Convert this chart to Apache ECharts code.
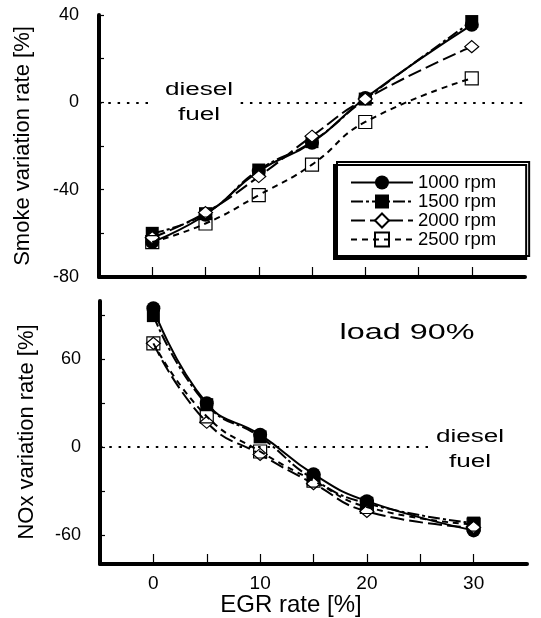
<!DOCTYPE html>
<html>
<head>
<meta charset="utf-8">
<script src="https://cdn.jsdelivr.net/npm/echarts@6/dist/echarts.min.js"></script>
<style>
html,body{margin:0;padding:0;background:#fff;}
#chart{width:541px;height:618px;}
</style>
</head>
<body>
<div id="chart"></div>
<script>
// ---- data ----
const egrRates = [0, 5, 10, 15, 20, 30];
const rpmNames = ['1000 rpm', '1500 rpm', '2000 rpm', '2500 rpm'];

const smoke1000 = [-64, -51.5, -31.5, -18.5, 2, 35.5];
const smoke1500 = [-60, -51, -31, -18, 1.5, 37];
const smoke2000 = [-62, -50.5, -34, -15.5, 1.5, 25.5];
const smoke2500 = [-64, -55.5, -42.5, -28.5, -9, 11];

const nox1000 = [95, 30, 8.5, -18.5, -37, -57];
const nox1500 = [90, 29, 7, -22, -38.5, -52];
const nox2000 = [71, 17, -5, -25, -44, -55];
const nox2500 = [71, 21, -3, -23, -41, -53];

const smokeLabelValues = [-80, -40, 0, 40];
const noxTickValues = [-60, -30, 0, 30, 60, 90];
const noxLabelValues = [-60, 0, 60];
const egrTickValues = [0, 5, 10, 15, 20, 25, 30];
const egrLabelValues = [0, 10, 20, 30];

// ---- chart ----
const FONT = '"Liberation Sans", Arial, Helvetica, sans-serif';
const chart = echarts.init(document.getElementById('chart'), null, {renderer: 'canvas'});

const styles = [
  {symbol: 'circle', size: 14, fill: '#000', dash: 'solid'},
  {symbol: 'rect', size: 13, fill: '#000', dash: [12, 3, 3, 3]},
  {symbol: 'diamond', size: [14, 12], fill: '#fff', dash: [14, 5]},
  {symbol: 'rect', size: 13, fill: 'rgba(255,255,255,0)', dash: [6, 5]}
];

function pairs(vals) { return egrRates.map((x, i) => [x, vals[i]]); }

function mkSeries(idx, gridIdx, vals, extra) {
  const s = styles[idx];
  const o = {
    name: rpmNames[idx],
    type: 'line',
    xAxisIndex: gridIdx,
    yAxisIndex: gridIdx,
    data: pairs(vals),
    smooth: 0.5,
    symbol: s.symbol,
    symbolSize: s.size,
    showSymbol: true,
    lineStyle: {color: '#000', width: 2, type: s.dash},
    itemStyle: {color: s.fill, borderColor: '#000', borderWidth: idx >= 2 ? 1.2 : 0},
    emphasis: {disabled: true},
    animation: false,
    z: 3 + idx
  };
  return Object.assign(o, extra || {});
}

const dotted = {color: '#000', width: 2, type: [2.5, 6.8]};

const option = {
  animation: false,
  backgroundColor: '#fff',
  grid: [
    {left: 99, top: 15, width: 426, height: 262},
    {left: 100, top: 301, width: 427, height: 263}
  ],
  xAxis: [
    {
      type: 'value', gridIndex: 0, min: -5, max: 35, interval: 5,
      axisLine: {onZero: false, lineStyle: {color: '#000', width: 4}},
      axisTick: {inside: true, length: 10, lineStyle: {color: '#000', width: 1.2}, customValues: egrTickValues},
      axisLabel: {show: false},
      splitLine: {show: false}
    },
    {
      type: 'value', gridIndex: 1, min: -5, max: 35, interval: 5,
      axisLine: {onZero: false, lineStyle: {color: '#000', width: 4}},
      axisTick: {inside: true, length: 10, lineStyle: {color: '#000', width: 1.2}, customValues: egrTickValues},
      axisLabel: {color: '#000', fontSize: 19, fontFamily: FONT, margin: 10, customValues: egrLabelValues},
      splitLine: {show: false}
    }
  ],
  yAxis: [
    {
      type: 'value', gridIndex: 0, min: -80, max: 40, interval: 20,
      axisLine: {show: true, onZero: false, lineStyle: {color: '#000', width: 4}},
      axisTick: {show: true, inside: true, length: 5, lineStyle: {color: '#000', width: 1.2}},
      axisLabel: {color: '#000', fontSize: 18, fontFamily: FONT, margin: 20, customValues: smokeLabelValues},
      splitLine: {show: false}
    },
    {
      type: 'value', gridIndex: 1, min: -80, max: 100,
      axisLine: {show: true, onZero: false, lineStyle: {color: '#000', width: 4}},
      axisTick: {show: true, inside: true, length: 5, lineStyle: {color: '#000', width: 1.2}, customValues: noxTickValues},
      axisLabel: {color: '#000', fontSize: 18, fontFamily: FONT, margin: 19, customValues: noxLabelValues},
      splitLine: {show: false}
    }
  ],
  legend: {
    data: rpmNames,
    orient: 'vertical',
    left: 337, top: 162,
    padding: [11, 33, 7, 13],
    itemWidth: 62, itemHeight: 17.5, itemGap: 0, itemTextGap: 10,
    backgroundColor: '#fff',
    borderColor: '#000', borderWidth: 2, borderRadius: 0,
    shadowColor: '#000', shadowBlur: 0, shadowOffsetX: -3, shadowOffsetY: 3,
    textStyle: {color: '#000', fontSize: 18.5, fontFamily: FONT, lineHeight: 17.5},
    selectedMode: false
  },
  series: [
    mkSeries(0, 0, smoke1000, {
      markLine: {
        silent: true, symbol: ['none', 'none'], label: {show: false}, animation: false,
        lineStyle: dotted,
        data: [
          [{coord: [-5, 0]}, {coord: [0.2, 0]}],
          [{coord: [8.3, 0]}, {coord: [35, 0]}]
        ]
      }
    }),
    mkSeries(1, 0, smoke1500),
    mkSeries(2, 0, smoke2000),
    mkSeries(3, 0, smoke2500),
    mkSeries(0, 1, nox1000, {
      markLine: {
        silent: true, symbol: ['none', 'none'], label: {show: false}, animation: false,
        lineStyle: dotted,
        data: [
          [{coord: [-5, 0]}, {coord: [26, 0]}]
        ]
      }
    }),
    mkSeries(1, 1, nox1500),
    mkSeries(2, 1, nox2000),
    mkSeries(3, 1, nox2500)
  ],
  graphic: [
    {type: 'text', x: 23, y: 146, rotation: Math.PI / 2, silent: true,
     style: {text: 'Smoke variation rate [%]', fill: '#000', fontSize: 22, fontFamily: FONT,
             align: 'center', verticalAlign: 'middle', textAlign: 'center', textVerticalAlign: 'middle'}},
    {type: 'text', x: 27, y: 432, rotation: Math.PI / 2, silent: true,
     style: {text: 'NOx variation rate [%]', fill: '#000', fontSize: 22, fontFamily: FONT,
             align: 'center', verticalAlign: 'middle', textAlign: 'center', textVerticalAlign: 'middle'}},
    {type: 'text', x: 291, y: 605, silent: true,
     style: {text: 'EGR rate [%]', fill: '#000', fontSize: 24, fontFamily: FONT,
             align: 'center', verticalAlign: 'middle', textAlign: 'center', textVerticalAlign: 'middle'}},
    {type: 'text', x: 199, y: 102.5, scaleX: 1.45, silent: true,
     style: {text: 'diesel\nfuel', fill: '#000', fontSize: 18, lineHeight: 25, fontFamily: FONT,
             align: 'center', verticalAlign: 'middle', textAlign: 'center', textVerticalAlign: 'middle'}},
    {type: 'text', x: 470, y: 449.5, scaleX: 1.45, silent: true,
     style: {text: 'diesel\nfuel', fill: '#000', fontSize: 18, lineHeight: 25, fontFamily: FONT,
             align: 'center', verticalAlign: 'middle', textAlign: 'center', textVerticalAlign: 'middle'}},
    {type: 'text', x: 407, y: 333, scaleX: 1.47, silent: true,
     style: {text: 'load 90%', fill: '#000', fontSize: 22, fontFamily: FONT,
             align: 'center', verticalAlign: 'middle', textAlign: 'center', textVerticalAlign: 'middle'}}
  ]
};
chart.setOption(option);
</script>
</body>
</html>
